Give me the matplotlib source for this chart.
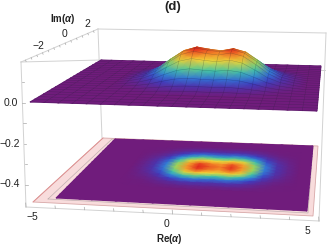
import numpy as np
import matplotlib
matplotlib.use('Agg')
import matplotlib.pyplot as plt
from matplotlib.colors import LinearSegmentedColormap
from matplotlib.patches import Polygon

plt.rcParams['font.family'] = ['Liberation Sans', 'DejaVu Sans']
plt.rcParams['mathtext.fontset'] = 'custom'
plt.rcParams['mathtext.it'] = 'Liberation Sans:italic:bold'
plt.rcParams['mathtext.rm'] = 'Liberation Sans:bold'

# Grid of the surface, Re and Im
re_grid = np.arange(-5, 5.5, 0.5)
im_grid = np.arange(-5, 5.5, 0.5)

# Heights (in 1/1000), Re -2.5..4, Im -2.5..3.5
bump = [
    [1, 1, 3, 6, 8, 9, 9, 8, 9, 8, 6, 3, 1, 1],
    [1, 3, 8, 14, 20, 23, 22, 21, 23, 20, 14, 8, 3, 1],
    [3, 7, 16, 31, 44, 50, 47, 45, 49, 44, 31, 16, 7, 3],
    [5, 13, 28, 53, 75, 85, 80, 77, 83, 75, 53, 28, 13, 5],
    [7, 19, 41, 77, 109, 124, 117, 112, 122, 109, 77, 41, 19, 7],
    [9, 22, 49, 92, 131, 149, 140, 134, 146, 131, 92, 49, 22, 9],
    [9, 23, 51, 96, 136, 155, 146, 140, 152, 136, 96, 51, 23, 9],
    [9, 22, 49, 92, 131, 149, 140, 134, 146, 131, 92, 49, 22, 9],
    [7, 19, 41, 77, 109, 124, 117, 112, 122, 109, 77, 41, 19, 7],
    [5, 13, 28, 53, 75, 85, 80, 77, 83, 75, 53, 28, 13, 5],
    [3, 7, 16, 31, 44, 50, 47, 45, 49, 44, 31, 16, 7, 3],
    [1, 3, 8, 14, 20, 23, 22, 21, 23, 20, 14, 8, 3, 1],
    [1, 1, 3, 6, 8, 9, 9, 8, 9, 8, 6, 3, 1, 1],
]

re_ticks = [-5, 0, 5]
im_ticks = [-2, 0, 2]
z_ticks = [0.0, -0.2, -0.4]
z_tick_labels = ['0.0', '\u22120.2', '\u22120.4']

Z = np.zeros((21, 21))
Z[5:18, 5:19] = np.array(bump) / 1000.0
Z = Z[::-1]  # back row first, so nearer strips paint over it
ims = im_grid[::-1]

rainbow = LinearSegmentedColormap.from_list('rb', [
    (0.00, '#701c7c'), (0.10, '#5a2c9c'), (0.22, '#3840c8'), (0.36, '#3090dc'),
    (0.50, '#40c4a8'), (0.63, '#a8d850'), (0.76, '#f8d838'), (0.89, '#f48a28'),
    (1.00, '#e0241c')])


def homography(corners):
    # corners: (-5,-5), (5,-5), (5,5), (-5,5) as pixels
    src = [(-5, -5), (5, -5), (5, 5), (-5, 5)]
    A, b = [], []
    for (x, y), (u, v) in zip(src, corners):
        A.append([x, y, 1, 0, 0, 0, -u * x, -u * y])
        A.append([0, 0, 0, x, y, 1, -v * x, -v * y])
        b += [u, v]
    h = np.append(np.linalg.solve(np.array(A, float), np.array(b, float)), 1).reshape(3, 3)

    def apply(x, y):
        w = h[2, 0] * x + h[2, 1] * y + h[2, 2]
        return (h[0, 0] * x + h[0, 1] * y + h[0, 2]) / w, (h[1, 0] * x + h[1, 1] * y + h[1, 2]) / w
    return apply


fig = plt.figure(figsize=(3.27, 2.45), dpi=100)
ax = fig.add_axes([0, 0, 1, 1])
ax.set_xlim(0, 327)
ax.set_ylim(245, 0)
ax.axis('off')

# Box
box_col = '#d2d2d2'
for (a, b) in [((21, 62), (26, 207)), ((21, 62), (98, 29)), ((98, 29), (326, 33)),
               ((326, 33), (319, 221)), ((26, 207), (319, 221)), ((98, 29), (102, 138)),
               ((21, 62), (101, 60)), ((318, 70), (325, 70))]:
    ax.plot([a[0], b[0]], [a[1], b[1]], color=box_col, lw=0.7, zorder=1)

# Bottom projection
ax.add_patch(Polygon([(33, 202), (103, 138), (318, 146), (313, 216)], closed=True,
                     fc='#f8dcdc', ec='#d8a8a8', lw=0.6, zorder=2))
ax.plot([33, 103], [202, 138], color='#e09090', lw=0.6, zorder=2)
ax.plot([48, 112, 313, 308, 48], [199, 139, 146, 213, 199], color='#c0b0b0', lw=0.5, zorder=2)
low = homography([(56, 198), (307, 211), (313, 146), (115, 139)])
X, Y = np.meshgrid(re_grid, ims)
px, py = low(X, Y)
ax.pcolormesh(px, py, Z, shading='gouraud', cmap=rainbow, vmin=0, vmax=0.155, zorder=3)

# Top surface, strip by strip from the back
top = homography([(30, 102), (317, 111), (321, 66), (101, 60)])
px, py = top(X, Y)
py = py - Z * 205
mesh = dict(color='#1c1c30', alpha=0.32, lw=0.35, zorder=4)
for i in range(Z.shape[0] - 1):
    ax.pcolormesh(px[i:i + 2], py[i:i + 2], Z[i:i + 2], shading='gouraud', cmap=rainbow,
                  vmin=0, vmax=0.155, zorder=4)
    ax.plot(px[i], py[i], **mesh)
    for j in range(Z.shape[1]):
        ax.plot(px[i:i + 2, j], py[i:i + 2, j], **mesh)
ax.plot(px[-1], py[-1], **mesh)

# Ticks on the box edges
tick_col = '#a8a8a8'
for t in np.arange(-5, 6):
    f = (t + 5) / 10
    x0, y0 = 26 + f * 293, 207 + f * 14
    ax.plot([x0, x0 - 0.3], [y0, y0 - 2.5 if t % 5 else y0 - 4], color=tick_col, lw=0.5, zorder=1)
for t in np.arange(-3, 3.5, 0.5):
    f = (t + 3.4) / 6.8
    x0, y0 = 21 + f * 77, 62 - f * 33
    ax.plot([x0, x0 + 0.6], [y0, y0 + 1.5], color=tick_col, lw=0.5, zorder=1)
for y0 in np.arange(82, 205, 20.5):
    x0 = 21 + (y0 - 62) / 145 * 5
    ax.plot([x0, x0 + 2.5], [y0, y0], color=tick_col, lw=0.5, zorder=1)

# Text
fs = 7.5
txt = '#222222'
for label, (x0, y0) in zip(z_tick_labels, [(11, 102.5), (10, 144), (10, 184)]):
    ax.text(x0, y0, label, fontsize=fs, ha='center', va='center', color=txt)
for label, (x0, y0) in zip(re_ticks, [(32, 217), (166, 224), (307, 231)]):
    ax.text(x0, y0, str(label).replace('-', '\u2212'), fontsize=fs, ha='center', va='center', color=txt)
for label, (x0, y0) in zip(im_ticks, [(38, 46), (64, 34), (87, 24)]):
    ax.text(x0, y0, str(label).replace('-', '\u2212'), fontsize=fs, ha='center', va='center', color=txt)
ax.text(63, 19, r'Im($\alpha$)', fontsize=7, fontweight='bold', ha='center', va='center', color=txt)
ax.text(169, 239, r'Re($\alpha$)', fontsize=7, fontweight='bold', ha='center', va='center', color=txt)
ax.text(173, 7, '(d)', fontsize=9.5, fontweight='bold', ha='center', va='center', color=txt)

fig.savefig('out.png', dpi=100)
